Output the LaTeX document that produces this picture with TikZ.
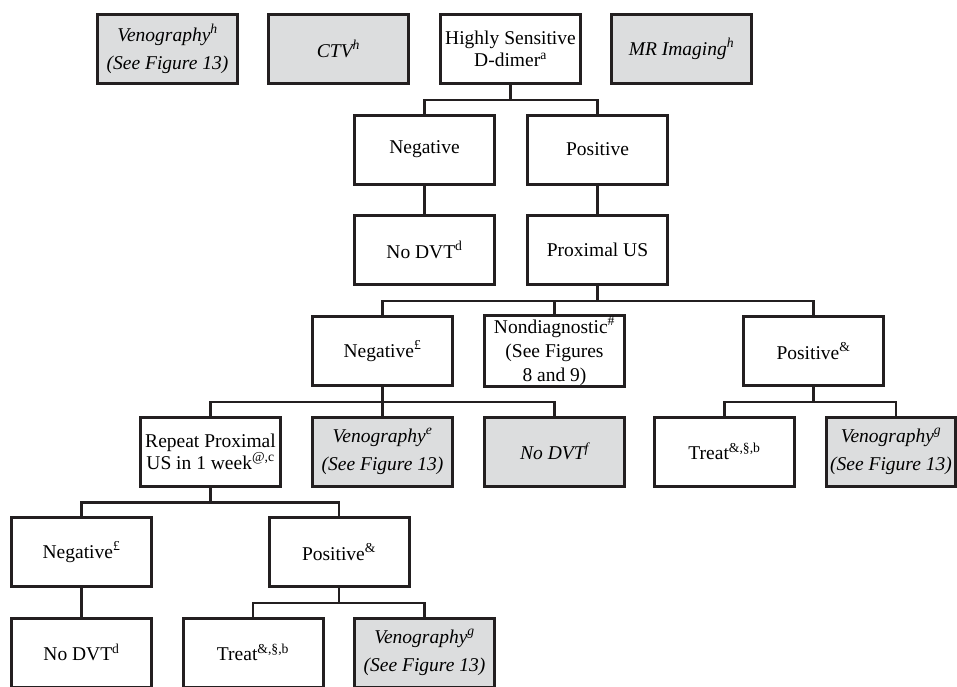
\documentclass[tikz,border=0pt]{standalone}
\usepackage{fontspec}
\setmainfont{Liberation Serif}
\usetikzlibrary{positioning}
\definecolor{rahmen}{RGB}{35,31,32}
\definecolor{grau}{RGB}{220,221,222}

\begin{document}
\begin{tikzpicture}
  [x=1pt,y=-1pt,node distance=100.5pt,on grid,
  kasten/.style={rectangle,minimum width=140pt,minimum height=69pt,line width=3pt,draw=rahmen,fill=white,align=center,inner sep=1pt,font=\fontsize{19.5}{22}\selectfont},
  kasten2/.style={kasten,fill=grau,font=\fontsize{19.5}{28}\selectfont\itshape},
  linie/.style={line width=2.8pt,draw=rahmen}]
  \useasboundingbox (0,0) rectangle (957,686);
  \node (dimer) [kasten] at (510.5,49) {Highly Sensitive\\D-dimer\textsuperscript{a}};
  \node (ctv) [kasten2, left=172pt of dimer] {CTV\textsuperscript{h}};
  \node (veno1) [kasten2, left=171pt of ctv] {Venography\textsuperscript{h}\\(See Figure 13)};
  \node (mri) [kasten2, right=171pt of dimer] {MR Imaging\textsuperscript{h}};
  \node (neg1) [kasten, below left=100.5pt and 86pt of dimer] {Negative};
  \node (pos1) [kasten, right=173pt of neg1] {Positive};
  \node (nodvt1) [kasten, below=of neg1] {No DVT\textsuperscript{d}};
  \node (prox) [kasten, below=of pos1] {Proximal US};
  \node (neg2) [kasten, below left=101pt and 215pt of prox] {Negative\textsuperscript{£}};
  \node (nondiag) [kasten, right=172pt of neg2, font=\fontsize{19.5}{24}\selectfont] {Nondiagnostic\textsuperscript{\#}\\(See Figures\\8 and 9)};
  \node (pos2) [kasten, right=259pt of nondiag] {Positive\textsuperscript{\&}};
  \node (repeat) [kasten, below left=100.5pt and 172pt of neg2] {Repeat Proximal\\US in 1 week\textsuperscript{@,c}};
  \node (veno2) [kasten2, below=of neg2] {Venography\textsuperscript{e}\\(See Figure 13)};
  \node (nodvt2) [kasten2, below=of nondiag] {No DVT\textsuperscript{f}};
  \node (treat1) [kasten, below left=100.5pt and 89pt of pos2] {Treat\textsuperscript{\&,\S,b}};
  \node (veno3) [kasten2, right=166.5pt of treat1, minimum width=129pt] {Venography\textsuperscript{g}\\(See Figure 13)};
  \node (neg3) [kasten, below left=100.5pt and 129pt of repeat] {Negative\textsuperscript{£}};
  \node (pos3) [kasten, right=257.5pt of neg3] {Positive\textsuperscript{\&}};
  \node (nodvt3) [kasten, below=of neg3] {No DVT\textsuperscript{d}};
  \node (treat2) [kasten, below left=100.5pt and 86pt of pos3] {Treat\textsuperscript{\&,\S,b}};
  \node (veno4) [kasten2, right=171.5pt of treat2] {Venography\textsuperscript{g}\\(See Figure 13)};
  % Verbindungen
  \coordinate (b1) at ([yshift=-15pt]dimer.south);
  \coordinate (b2) at ([yshift=-15pt]prox.south);
  \coordinate (b3) at ([yshift=-15pt]neg2.south);
  \coordinate (b4) at ([yshift=-15pt]pos2.south);
  \coordinate (b5) at ([yshift=-15pt]repeat.south);
  \coordinate (b6) at ([yshift=-15pt]pos3.south);
  \coordinate (v3) at ([xshift=5pt]veno3.north);
  \draw[linie] (dimer.south) -- (b1);
  \draw[linie] (neg1.north) |- (b1) -| (pos1.north);
  \draw[linie] (neg1.south) -- (nodvt1.north);
  \draw[linie] (pos1.south) -- (prox.north);
  \draw[linie] (prox.south) -- (b2);
  \draw[linie] (neg2.north) |- (b2) -| (pos2.north);
  \draw[linie] (nondiag.north) -- (nondiag.north |- b2);
  \draw[linie] (neg2.south) -- (b3);
  \draw[linie] (repeat.north) |- (b3) -| (nodvt2.north);
  \draw[linie] (veno2.north) -- (b3);
  \draw[linie] (pos2.south) -- (b4);
  \draw[linie] (treat1.north) |- (b4) -| (v3);
  \draw[linie] (repeat.south) -- (b5);
  \draw[linie] (neg3.north) |- (b5) -| (pos3.north);
  \draw[linie] (neg3.south) -- (nodvt3.north);
  \draw[linie] (pos3.south) -- (b6);
  \draw[linie] (treat2.north) |- (b6) -| (veno4.north);
\end{tikzpicture}
\end{document}
